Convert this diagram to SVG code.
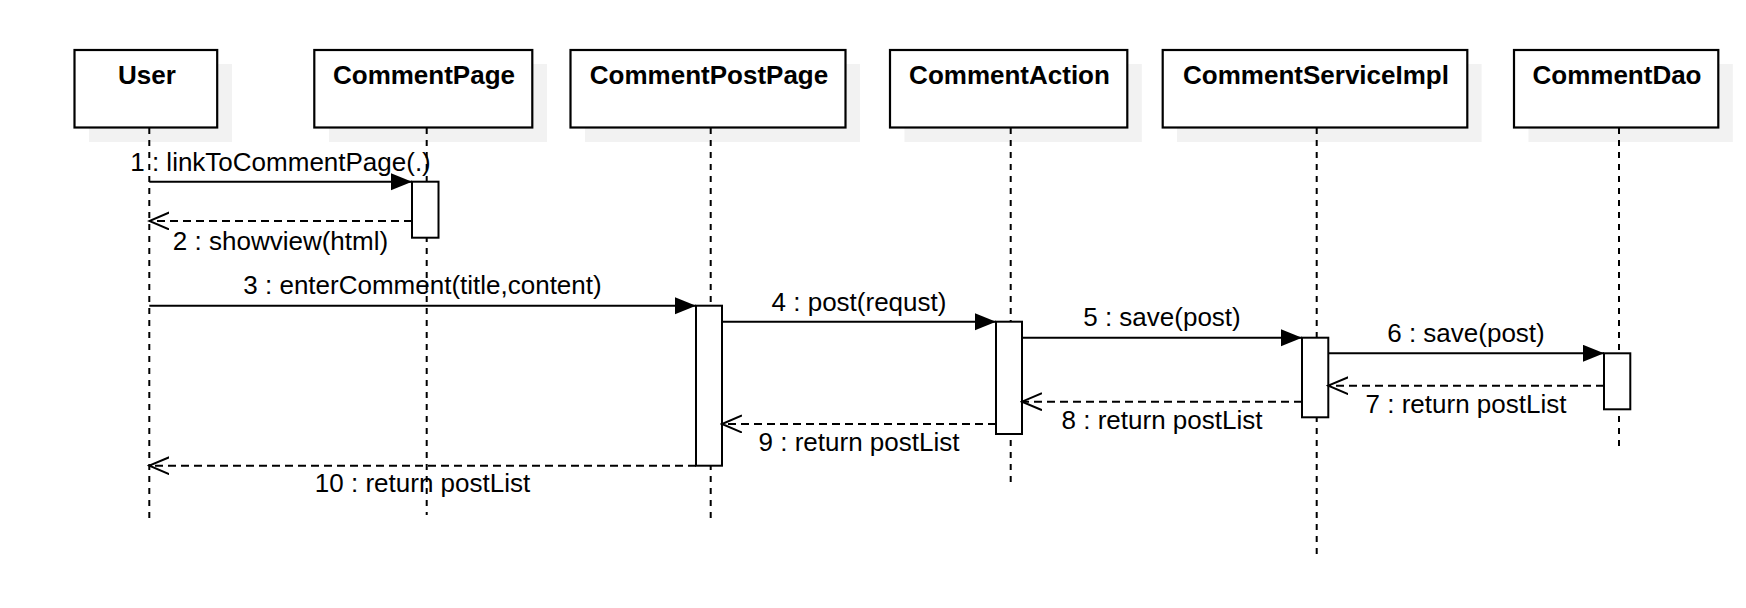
<svg xmlns="http://www.w3.org/2000/svg" width="1746" height="608" viewBox="0 0 1746 608">
  <style>
    .shadow { fill: #f2f2f2; stroke: none; }
    .head { fill: #ffffff; stroke: #000000; stroke-width: 2.2; }
    .title { font-family: "Liberation Sans", Arial, sans-serif; font-size: 26px; font-weight: bold; fill: #000000; text-anchor: middle; }
    .life { stroke: #000000; stroke-width: 2; stroke-dasharray: 6 6; fill: none; }
    .act { fill: #ffffff; stroke: #000000; stroke-width: 2; }
    .call { stroke: #000000; stroke-width: 2; fill: none; marker-end: url(#solidHead); }
    .reply { stroke: #000000; stroke-width: 2; stroke-dasharray: 8 5; fill: none; marker-end: url(#openHead); }
    .label { font-family: "Liberation Sans", Arial, sans-serif; font-size: 26px; fill: #000000; text-anchor: middle; }
  </style>
  <defs>
    <marker id="solidHead" markerUnits="userSpaceOnUse" markerWidth="22" markerHeight="18" refX="21" refY="8.5" orient="auto">
      <path d="M0,0 L21,8.5 L0,17 z" fill="#000000"/>
    </marker>
    <marker id="openHead" markerUnits="userSpaceOnUse" markerWidth="22" markerHeight="19" refX="20" refY="9" orient="auto">
      <path d="M0,0.5 L20,9 L0,17.5" fill="none" stroke="#000000" stroke-width="2"/>
    </marker>
  </defs>
  <rect width="1746" height="608" fill="#ffffff"/>

  <!-- lifelines with header boxes and activation bars -->
  <g id="user">
    <rect class="shadow" x="89" y="64" width="143" height="78"/>
    <line class="life" x1="149.3" y1="128" x2="149.3" y2="520"/>
    <rect class="head" x="74.5" y="50" width="142.7" height="77.5"/>
    <text class="title" x="147" y="84">User</text>
  </g>

  <g id="commentPage">
    <rect class="shadow" x="329" y="64" width="218" height="78"/>
    <line class="life" x1="426.7" y1="128" x2="426.7" y2="515"/>
    <rect class="head" x="314.3" y="50" width="218" height="77.5"/>
    <text class="title" x="424" y="84">CommentPage</text>
    <rect class="act" x="412" y="181.7" width="26.5" height="56"/>
  </g>

  <g id="commentPostPage">
    <rect class="shadow" x="585" y="64" width="275" height="78"/>
    <line class="life" x1="710.7" y1="128" x2="710.7" y2="520"/>
    <rect class="head" x="570.5" y="50" width="275" height="77.5"/>
    <text class="title" x="709" y="84">CommentPostPage</text>
    <rect class="act" x="696" y="305.7" width="26" height="160"/>
  </g>

  <g id="commentAction">
    <rect class="shadow" x="904.5" y="64" width="237.3" height="78"/>
    <line class="life" x1="1010.7" y1="128" x2="1010.7" y2="484"/>
    <rect class="head" x="890" y="50" width="237.3" height="77.5"/>
    <text class="title" x="1009.5" y="84">CommentAction</text>
    <rect class="act" x="996" y="321.7" width="26" height="112.3"/>
  </g>

  <g id="commentServiceImpl">
    <rect class="shadow" x="1177" y="64" width="304.6" height="78"/>
    <line class="life" x1="1316.7" y1="128" x2="1316.7" y2="555"/>
    <rect class="head" x="1162.7" y="50" width="304.6" height="77.5"/>
    <text class="title" x="1316" y="84">CommentServiceImpl</text>
    <rect class="act" x="1302" y="337.7" width="26.3" height="79.6"/>
  </g>

  <g id="commentDao">
    <rect class="shadow" x="1528.5" y="64" width="204.3" height="78"/>
    <line class="life" x1="1619" y1="128" x2="1619" y2="449"/>
    <rect class="head" x="1514" y="50" width="204.3" height="77.5"/>
    <text class="title" x="1617" y="84">CommentDao</text>
    <rect class="act" x="1604" y="353.3" width="26.3" height="56"/>
  </g>

  <!-- messages -->
  <g id="messages">
    <line class="call" x1="149.3" y1="181.7" x2="412" y2="181.7"/>
    <text class="label" x="280.5" y="170.5">1 : linkToCommentPage(.)</text>

    <line class="reply" x1="412" y1="221" x2="149.3" y2="221"/>
    <text class="label" x="280.5" y="249.5">2 : showview(html)</text>

    <line class="call" x1="149.3" y1="305.7" x2="696" y2="305.7"/>
    <text class="label" x="422.5" y="294">3 : enterComment(title,content)</text>

    <line class="call" x1="722" y1="321.7" x2="996" y2="321.7"/>
    <text class="label" x="859" y="310.5">4 : post(requst)</text>

    <line class="call" x1="1022" y1="337.7" x2="1302" y2="337.7"/>
    <text class="label" x="1162" y="326">5 : save(post)</text>

    <line class="call" x1="1328.3" y1="353.3" x2="1604" y2="353.3"/>
    <text class="label" x="1466" y="342">6 : save(post)</text>

    <line class="reply" x1="1604" y1="385.7" x2="1328.3" y2="385.7"/>
    <text class="label" x="1466" y="412.5">7 : return postList</text>

    <line class="reply" x1="1302" y1="401.7" x2="1022" y2="401.7"/>
    <text class="label" x="1162" y="429">8 : return postList</text>

    <line class="reply" x1="996" y1="424" x2="722" y2="424"/>
    <text class="label" x="859" y="451">9 : return postList</text>

    <line class="reply" x1="696" y1="465.7" x2="149.3" y2="465.7"/>
    <text class="label" x="422.5" y="492">10 : return postList</text>
  </g>
</svg>
